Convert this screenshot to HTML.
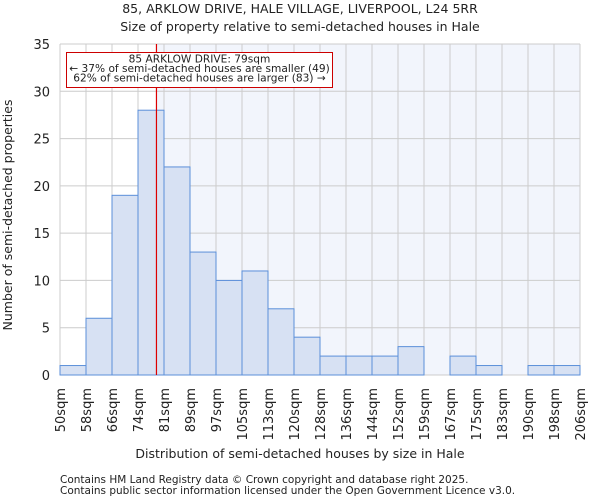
<!DOCTYPE html>
<html><head><meta charset="utf-8"><style>
body{margin:0;background:#fff;font-family:"DejaVu Sans","Liberation Sans",sans-serif;}
svg text{font-family:"DejaVu Sans","Liberation Sans",sans-serif;fill:#222;}
</style></head><body>
<svg id="chart" width="600" height="500" viewBox="0 0 600 500" xmlns="http://www.w3.org/2000/svg">
<text x="300" y="13" font-size="12.5" text-anchor="middle">85, ARKLOW DRIVE, HALE VILLAGE, LIVERPOOL, L24 5RR</text>
<text x="300" y="31" font-size="12.5" text-anchor="middle">Size of property relative to semi-detached houses in Hale</text>
<g id="plot"></g>
<text x="300" y="458" font-size="12.5" text-anchor="middle">Distribution of semi-detached houses by size in Hale</text>
<text transform="translate(12,215) rotate(-90)" font-size="12.5" text-anchor="middle">Number of semi-detached properties</text>
<text x="60" y="483" font-size="10.5" fill="#444">Contains HM Land Registry data © Crown copyright and database right 2025.</text>
<text x="60" y="494" font-size="10.5" fill="#444">Contains public sector information licensed under the Open Government Licence v3.0.</text>
</svg>
<script>
const categories=["50sqm","58sqm","66sqm","74sqm","81sqm","89sqm","97sqm","105sqm","113sqm","120sqm","128sqm","136sqm","144sqm","152sqm","159sqm","167sqm","175sqm","183sqm","190sqm","198sqm","206sqm"];
const counts=[1,6,19,28,22,13,10,11,7,4,2,2,2,3,0,2,1,0,1,1];
const yTicks=[0,5,10,15,20,25,30,35];
const markerBin=3.71;
const annotation=["85 ARKLOW DRIVE: 79sqm","← 37% of semi-detached houses are smaller (49)","62% of semi-detached houses are larger (83) →"];
const NS="http://www.w3.org/2000/svg";
const L=60,R=580,T=44,B=375,yMax=35;
const x=i=>L+(R-L)*i/counts.length;
const y=v=>B-(B-T)*v/yMax;
const g=document.getElementById('plot');
function mk(t,a,p){const e=document.createElementNS(NS,t);for(const k in a)e.setAttribute(k,a[k]);(p||g).appendChild(e);return e;}
let bg=mk('rect',{x:x(markerBin),y:T,width:R-x(markerBin),height:B-T,fill:'#f2f5fc'});


for(let i=0;i<=counts.length;i++){let l=mk('line',{x1:x(i),x2:x(i),y1:T,y2:B,stroke:'#ccc','stroke-width':1});

}
yTicks.forEach(v=>{let l=mk('line',{x1:L,x2:R,y1:y(v),y2:y(v),stroke:'#ccc','stroke-width':1});


let t=mk('text',{x:L-10,y:y(v)+5,'font-size':13,'text-anchor':'end'});t.textContent=v;

});
counts.forEach((c,i)=>{if(c<=0)return;let r=mk('rect',{x:x(i),y:y(c),width:x(i+1)-x(i),height:B-y(c),fill:'#d7e1f3',stroke:'#5b8fd9','stroke-width':1});

});
categories.forEach((c,i)=>{let t=mk('text',{transform:`translate(${x(i)+5},${B+13}) rotate(-90)`,'font-size':13,'text-anchor':'end'});t.textContent=c;

});
let ml=mk('line',{x1:x(markerBin),x2:x(markerBin),y1:T,y2:B,stroke:'#d00','stroke-width':1.2});


let box=mk('rect',{x:66.5,y:52.5,width:266,height:35,fill:'#fff',stroke:'#c00','stroke-width':1});


annotation.forEach((s,i)=>{let t=mk('text',{x:199.5,y:62.5+i*9.6,'font-size':10.6,'text-anchor':'middle'});t.textContent=s;

});
</script>
</body></html>
